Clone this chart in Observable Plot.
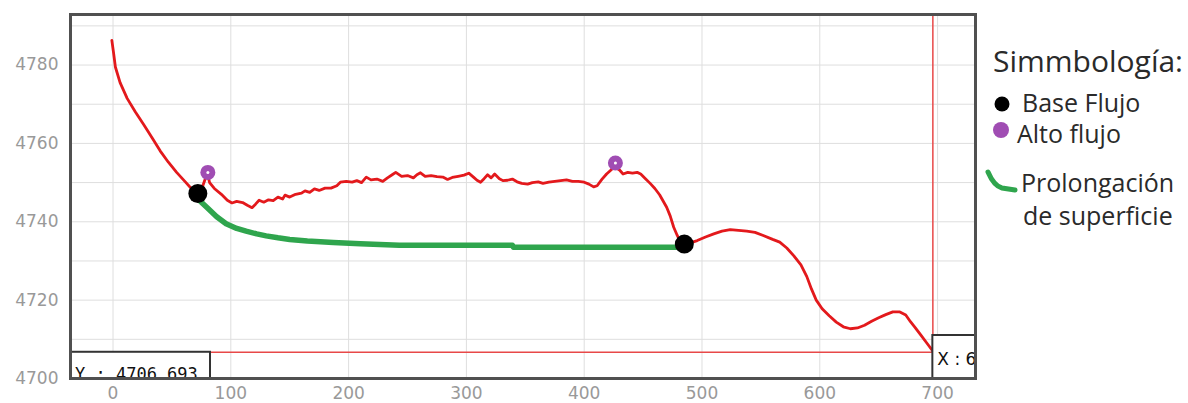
<!DOCTYPE html>
<html>
<head>
<meta charset="utf-8">
<script src="https://cdn.jsdelivr.net/npm/d3@7"></script>
<script src="https://cdn.jsdelivr.net/npm/@observablehq/plot@0.6"></script>
<style>
  body { margin: 0; background: #fff; }
  #wrap { position: relative; width: 1188px; height: 403px; overflow: hidden; }
  #wrap svg { position: absolute; left: 0; top: 0; }
</style>
</head>
<body>
<div id="wrap"></div>
<script>
// ---- data ----
const profileX = [-1, 0.5, 2, 6, 12, 19, 26, 33, 40, 47, 54, 61, 67, 72, 76, 80, 82, 86, 92, 97, 101, 105, 110, 114, 118, 121, 124, 128, 132, 136, 140, 144, 146, 150, 155, 160, 163, 167, 171, 175, 180, 185, 190, 193, 198, 203, 207, 211, 215, 219, 224, 229, 233, 237, 240, 245, 250, 255, 258, 261, 265, 270, 275, 280, 284, 288, 293, 298, 302, 306, 309, 312, 315, 318, 321, 324, 328, 331, 335, 339, 343, 347, 352, 356, 361, 365, 370, 375, 380, 385, 390, 395, 400, 404, 408, 411, 415, 419, 423, 426, 430, 433, 437, 441, 445, 448, 452, 456, 460, 464, 467, 470, 473, 476, 479, 482, 485, 490, 496, 503, 510, 517, 524, 531, 538, 545, 552, 560, 566, 572, 578, 584, 589, 593, 597, 602, 608, 614, 620, 626, 632, 638, 644, 650, 656, 662, 668, 673, 677, 681, 686, 691, 696];
const profileY = [4786.3, 4783, 4779.5, 4775.5, 4771.5, 4768, 4764.8, 4761.5, 4758.1, 4755.2, 4752.6, 4750.3, 4748.3, 4747.2, 4749, 4752.4, 4750, 4748.5, 4747, 4745.5, 4744.8, 4745.2, 4744.9, 4744.2, 4743.6, 4744.5, 4745.5, 4745.0, 4745.6, 4745.4, 4746.3, 4745.8, 4746.8, 4746.3, 4747.0, 4747.3, 4747.9, 4747.5, 4748.4, 4748.0, 4748.6, 4748.6, 4749.2, 4750.1, 4750.3, 4750.1, 4750.5, 4750.0, 4751.4, 4750.7, 4750.9, 4750.3, 4751.2, 4752.0, 4752.6, 4751.6, 4751.8, 4751.2, 4752.0, 4752.5, 4751.6, 4751.8, 4751.5, 4751.4, 4750.8, 4751.3, 4751.6, 4751.9, 4752.4, 4751.4, 4750.6, 4750.1, 4751.0, 4752.0, 4751.2, 4752.2, 4751.0, 4750.5, 4750.6, 4750.9, 4750.2, 4749.8, 4749.6, 4750.0, 4750.2, 4749.8, 4750.1, 4750.3, 4750.5, 4750.7, 4750.3, 4750.3, 4750.1, 4749.6, 4748.9, 4749.2, 4750.8, 4752.2, 4753.3, 4754.0, 4753.2, 4752.2, 4752.6, 4752.4, 4752.6, 4752.2, 4751.0, 4749.8, 4748.5, 4746.9, 4745.3, 4743.7, 4741.5, 4738.6, 4736.5, 4734.7, 4734.3, 4734.6, 4735.2, 4736.1, 4736.9, 4737.6, 4738.0, 4737.8, 4737.6, 4737.3, 4736.5, 4735.5, 4734.8, 4733.3, 4731.3, 4729.0, 4726.0, 4722.8, 4720.0, 4717.8, 4716.0, 4714.4, 4713.2, 4712.7, 4712.9, 4713.6, 4714.6, 4715.5, 4716.3, 4717.0, 4717.0, 4716.2, 4714.5, 4713.0, 4711.0, 4709.0, 4707.0];

const surfaceX = [70, 75, 80, 88, 96, 105, 113, 122, 130, 140, 150, 165, 187, 210, 243, 339, 340, 484];
const surfaceY = [4746.5, 4745.0, 4743.6, 4741.3, 4739.5, 4738.3, 4737.6, 4736.9, 4736.4, 4735.9, 4735.5, 4735.1, 4734.7, 4734.4, 4734.0, 4734.0, 4733.5, 4733.5];

const baseX = [72, 485];
const baseY = [4747.2, 4734.3];
const highX = [80.5, 426.5];
const highY = [4752.6, 4755.0];

const xTicks = [0, 100, 200, 300, 400, 500, 600, 700];
const yTicks = [4700, 4720, 4740, 4760, 4780];
const yGrid = [4700, 4710, 4720, 4730, 4740, 4750, 4760, 4770, 4780, 4790];
const xDomain = [-36.1, 732.2];
const yDomain = [4700, 4792.9];

const cursorX = 696;
const cursorY = 4706.693;
const cursorYLabel = "Y : 4706.693";
const cursorXLabel = "X : 696";

const legendTitle = "Simmbología:";
const legendBase = "Base Flujo";
const legendHigh = "Alto flujo";
const legendSurface1 = "Prolongación";
const legendSurface2 = "de superficie";

// ---- colours ----
const RED = "#e3191c";
const GREEN = "#2fa54d";
const PURPLE = "#a04db3";

const profile = profileX.map((x, i) => ({x, y: profileY[i]}));
const surface = surfaceX.map((x, i) => ({x, y: surfaceY[i]}));
const base = baseX.map((x, i) => ({x, y: baseY[i]}));
const high = highX.map((x, i) => ({x, y: highY[i]}));

// cursor read-out boxes, placed from the cursor values through the scales
function cursorBoxes(index, scales, values, dims) {
  const g = d3.create("svg:g").attr("text-anchor", "start");
  const left = dims.marginLeft;
  const bottom = dims.height - dims.marginBottom;
  const right = dims.width - dims.marginRight;
  const cy = scales.y(cursorY);
  const cx = scales.x(cursorX);
  const yBoxW = 140, xBoxH = 43;
  // Y box
  g.append("clipPath").attr("id", "clipYbox")
    .append("rect").attr("x", left).attr("y", cy).attr("width", yBoxW).attr("height", bottom - cy);
  g.append("rect").attr("x", left).attr("y", cy).attr("width", yBoxW).attr("height", bottom - cy)
    .attr("fill", "#fff").attr("stroke", "#333").attr("stroke-width", 2);
  g.append("text").attr("clip-path", "url(#clipYbox)")
    .attr("text-anchor", "start")
    .attr("x", left + 5).attr("y", bottom + 2)
    .attr("font-family", "DejaVu Sans Mono").attr("font-size", 17).attr("fill", "#111")
    .text(cursorYLabel);
  // X box
  g.append("clipPath").attr("id", "clipXbox")
    .append("rect").attr("x", cx).attr("y", bottom - xBoxH).attr("width", right - cx).attr("height", xBoxH);
  g.append("rect").attr("x", cx).attr("y", bottom - xBoxH).attr("width", right - cx).attr("height", xBoxH)
    .attr("fill", "#fff").attr("stroke", "#333").attr("stroke-width", 2);
  g.append("text").attr("clip-path", "url(#clipXbox)")
    .attr("text-anchor", "start")
    .attr("x", cx + 5).attr("y", bottom - 13)
    .attr("font-family", "DejaVu Sans").attr("font-size", 17).attr("fill", "#111")
    .text(cursorXLabel);
  return g.node();
}

const chart = Plot.plot({
  width: 1188,
  height: 403,
  marginLeft: 70,
  marginRight: 213,
  marginTop: 14,
  marginBottom: 25,
  style: {fontFamily: "DejaVu Sans", color: "#999", background: "#fff"},
  x: {domain: xDomain},
  y: {domain: yDomain},
  marks: [
    Plot.gridY(yGrid, {stroke: "#dedede", strokeOpacity: 1}),
    Plot.gridX(xTicks, {stroke: "#dedede", strokeOpacity: 1}),
    Plot.ruleY([cursorY], {x1: xDomain[0], x2: cursorX, stroke: "#e84848", strokeWidth: 1.5}),
    Plot.ruleX([cursorX], {stroke: "#e84848", strokeWidth: 1.5}),
    Plot.line(profile, {x: "x", y: "y", stroke: RED, strokeWidth: 2.8, strokeLinejoin: "round"}),
    Plot.line(surface, {x: "x", y: "y", stroke: GREEN, strokeWidth: 5.5, strokeLinecap: "round"}),
    Plot.dot(base, {x: "x", y: "y", r: 9.5, fill: "#000"}),
    Plot.dot(high, {x: "x", y: "y", r: 7.5, fill: PURPLE}),
    Plot.dot(high, {x: "x", y: "y", r: 1.5, fill: "#fff"}),
    cursorBoxes,
    Plot.frame({stroke: "#505050", strokeWidth: 3}),
    Plot.axisX(xTicks, {tickSize: 0, tickPadding: 8, fontSize: 17, fill: "#999", label: null, tickFormat: d => String(d)}),
    Plot.axisY(yTicks, {tickSize: 0, tickPadding: 12, fontSize: 17, fill: "#999", label: null, tickFormat: d => String(d)})
  ]
});

const wrap = document.getElementById("wrap");
wrap.appendChild(chart);

// ---- legend on the right ----
const leg = d3.select(wrap).append("svg")
  .attr("width", 1188).attr("height", 403)
  .style("pointer-events", "none");
const lf = "Open Sans";
leg.append("text").attr("x", 993).attr("y", 72).attr("font-family", lf).attr("font-size", 30).attr("fill", "#2a2a2a").text(legendTitle);
leg.append("circle").attr("cx", 1002).attr("cy", 104).attr("r", 7.5).attr("fill", "#000");
leg.append("text").attr("x", 1022).attr("y", 112).attr("font-family", lf).attr("font-size", 25).attr("fill", "#2a2a2a").text(legendBase);
leg.append("circle").attr("cx", 1001).attr("cy", 130).attr("r", 8).attr("fill", PURPLE);
leg.append("text").attr("x", 1017).attr("y", 143).attr("font-family", lf).attr("font-size", 25).attr("fill", "#2a2a2a").text(legendHigh);
leg.append("path").attr("d", "M988,172 Q994,186 1002,188 L1015,190")
  .attr("fill", "none").attr("stroke", GREEN).attr("stroke-width", 5).attr("stroke-linecap", "round");
leg.append("text").attr("x", 1021).attr("y", 192).attr("font-family", lf).attr("font-size", 25).attr("fill", "#2a2a2a").text(legendSurface1);
leg.append("text").attr("x", 1023).attr("y", 225).attr("font-family", lf).attr("font-size", 25).attr("fill", "#2a2a2a").text(legendSurface2);
</script>
</body>
</html>
